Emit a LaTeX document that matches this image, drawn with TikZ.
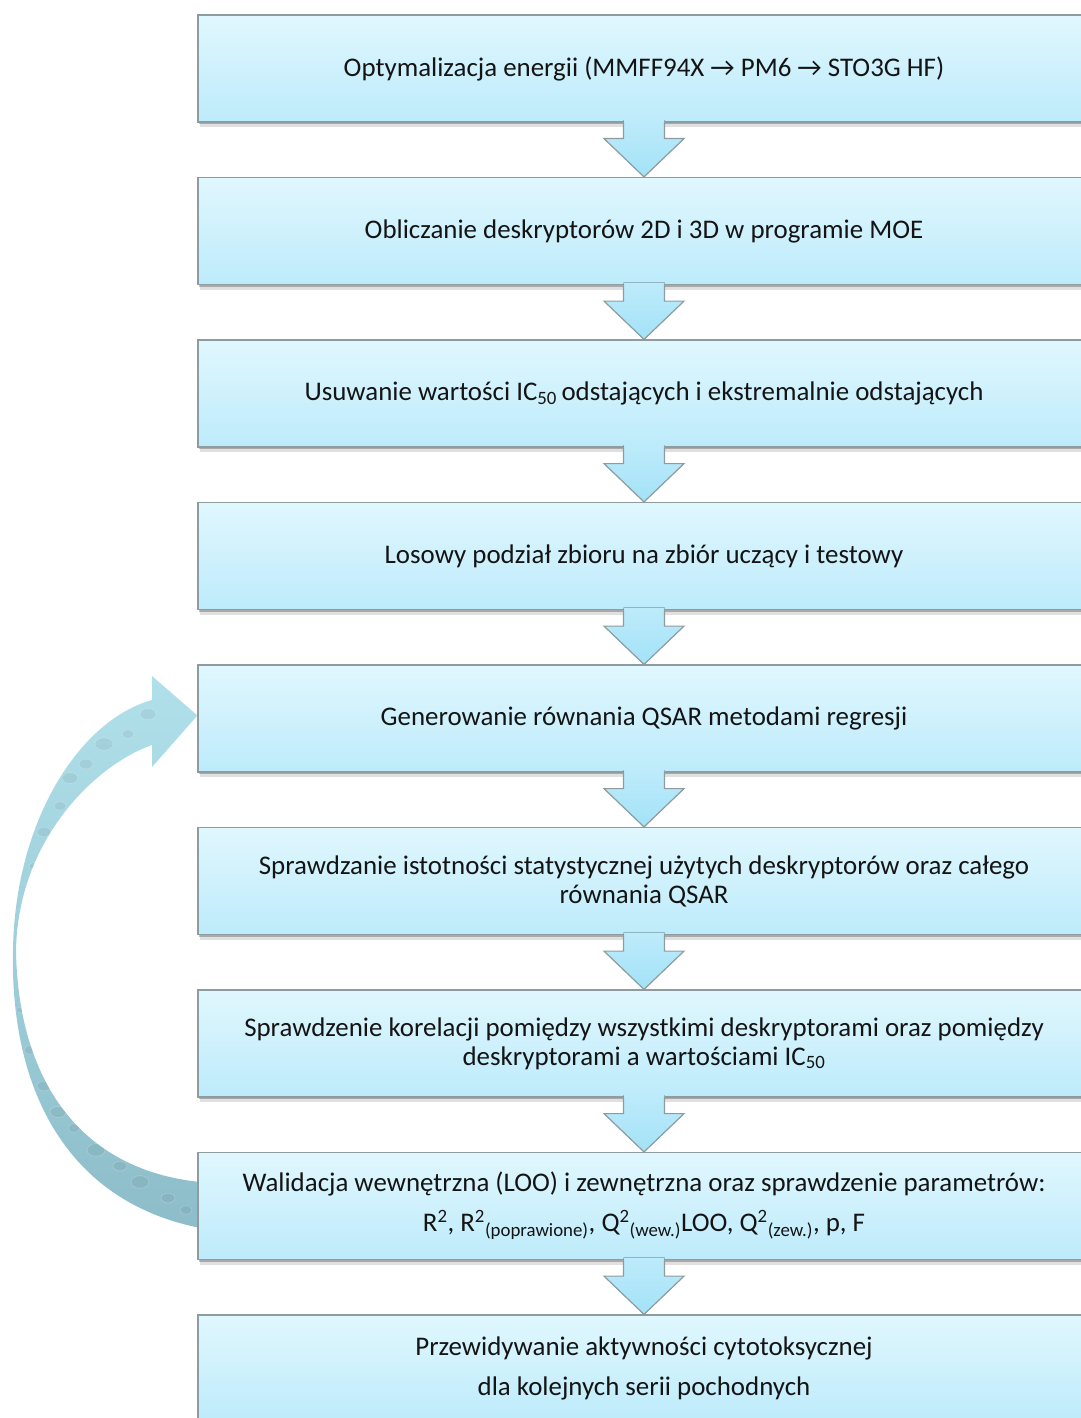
\documentclass[tikz,border=0pt]{standalone}
\usepackage{fontspec}
\setmainfont{Carlito}
\usetikzlibrary{calc,shadows,backgrounds}
\definecolor{boxtop}{HTML}{E0F7FE}
\definecolor{boxbot}{HTML}{BDEBFB}
\definecolor{boxedge}{HTML}{8E9CA0}
\definecolor{arrtop}{HTML}{BDEBFB}
\definecolor{arrbot}{HTML}{A3E2F7}
\definecolor{looptop}{HTML}{B0E0EA}
\definecolor{loopbot}{HTML}{8CBDC9}
\definecolor{txt}{HTML}{141414}
\begin{document}
\begin{tikzpicture}[x=1pt,y=-1pt,
  stepbox/.style={draw=boxedge, line width=1.2pt, top color=boxtop, bottom color=boxbot,
    minimum width=892pt, minimum height=107pt, inner sep=0pt, align=center, text=txt,
    font=\fontsize{26.9}{29}\selectfont,
    drop shadow={shadow xshift=1pt, shadow yshift=-2pt, opacity=0.35, fill=black!70},
    drop shadow={shadow xshift=1.5pt, shadow yshift=-5pt, opacity=0.12, fill=black}},
  flowarrow/.style={top color=arrtop, bottom color=arrbot, draw=none},
  flowedge/.style={draw=boxedge, line width=1.2pt, line join=miter},
  loopband/.style={top color=looptop, bottom color=loopbot, draw=none},
  bubble/.style={draw=white, fill=black, fill opacity=0.05, draw opacity=0.22, line width=0.7pt}
]
\useasboundingbox (0,0) rectangle (1080,1418);

% process steps
\node[stepbox] (b1) at (644,68.5) {Optymalizacja energii (MMFF94X → PM6 → STO3G HF)};
\node[stepbox] (b2) at (644,231) {Obliczanie deskryptorów 2D i 3D w programie MOE};
\node[stepbox] (b3) at (644,393.5) {Usuwanie wartości IC\textsubscript{50}\,odstających i ekstremalnie odstających};
\node[stepbox] (b4) at (644,556) {Losowy podział zbioru na zbiór uczący i testowy};
\node[stepbox] (b5) at (644,718.5) {Generowanie równania QSAR metodami regresji};
\node[stepbox] (b6) at (644,881) {Sprawdzanie istotności statystycznej użytych deskryptorów oraz całego\\równania QSAR};
\node[stepbox] (b7) at (644,1043.5) {Sprawdzenie korelacji pomiędzy wszystkimi deskryptorami oraz pomiędzy\\deskryptorami a wartościami IC\textsubscript{50}};
\node[stepbox] (b8) at (644,1206) {Walidacja wewnętrzna (LOO) i zewnętrzna oraz sprawdzenie parametrów:\\[11pt]R\textsuperscript{2}, R\textsuperscript{2}\textsubscript{(poprawione)}, Q\textsuperscript{2}\textsubscript{(wew.)}LOO, Q\textsuperscript{2}\textsubscript{(zew.)}, p, F};
\node[stepbox] (b9) at (644,1368.5) {Przewidywanie aktywności cytotoksycznej\\[11pt]dla kolejnych serii pochodnych};

% block arrows between consecutive steps
\foreach \a/\b in {b1/b2,b2/b3,b3/b4,b4/b5,b5/b6,b6/b7,b7/b8,b8/b9}{
  \fill[flowarrow] ($(\a.south)+(-20.5,-2.5)$) -- ($(\a.south)+(-20.5,16)$) -- ($(\a.south)+(-40,16)$)
    -- (\b.north) -- ($(\a.south)+(40,16)$) -- ($(\a.south)+(20.5,16)$) -- ($(\a.south)+(20.5,-2.5)$) -- cycle;
  \draw[flowedge] ($(\a.south)+(-20.5,-0.6)$) -- ($(\a.south)+(-20.5,16)$) -- ($(\a.south)+(-40,16)$)
    -- (\b.north) -- ($(\a.south)+(40,16)$) -- ($(\a.south)+(20.5,16)$) -- ($(\a.south)+(20.5,-0.6)$);
}

% curved feedback arrow from validation back to model generation
\begin{scope}[on background layer]
\coordinate (loopstart) at ($(b8.west)+(3,0)$);
\coordinate (looptip) at ($(b5.west)+(0,-3)$);
\path[loopband, path picture={
    \foreach \cx/\cy/\r in {148/714/8,128/734/6,104/744/9,86/764/7,70/778/8,60/806/6,44/832/7,34/866/5,26/900/4,
                            20/1010/4,30/1050/6,44/1086/7,58/1112/8,74/1128/6,96/1150/9,120/1166/7,140/1182/9,168/1198/7,186/1210/6}
      \draw[bubble] (\cx,\cy) ellipse[x radius=\r, y radius=0.7*\r];
  }]
  ($(loopstart)+(0,22)$) .. controls (60,1200) and (10,1080) .. (13,950)
  .. controls (15,820) and (80,720) .. (152,700)
  -- (152,676) -- (looptip) -- (152,767) -- (152,745)
  .. controls (95,765) and (18,840) .. (16,950)
  .. controls (18,1080) and (80,1170) .. ($(loopstart)+(0,-24)$) -- cycle;
\end{scope}
\end{tikzpicture}
\end{document}
